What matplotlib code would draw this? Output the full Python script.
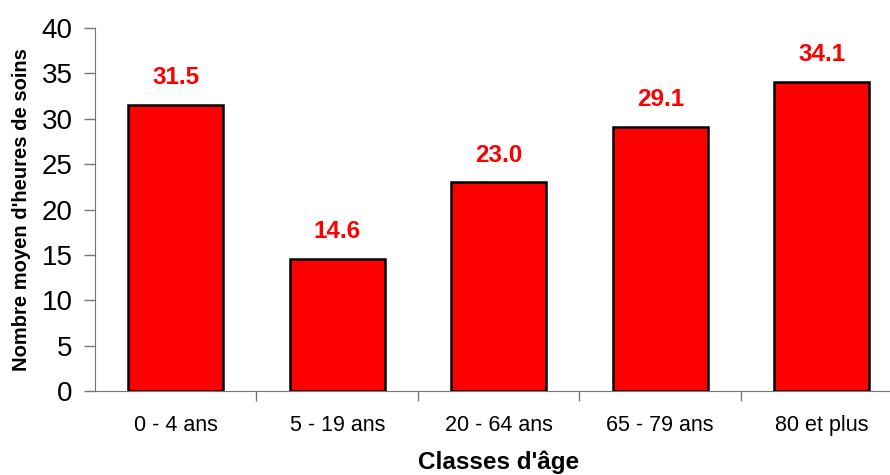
import matplotlib.pyplot as plt

plt.rcParams['font.family'] = ['Liberation Sans', 'DejaVu Sans']

categories = ["0 - 4 ans", "5 - 19 ans", "20 - 64 ans", "65 - 79 ans", "80 et plus"]
heures = [31.5, 14.6, 23.0, 29.1, 34.1]

fig = plt.figure(figsize=(8.9, 4.75), dpi=100)
ax = fig.add_axes([0.1067, 0.1768, 0.9073, 0.7642])

x = range(len(categories))
ax.bar(x, heures, width=0.59, color='#ff0000', edgecolor='black', linewidth=1.8, zorder=2)

for xi, v in zip(x, heures):
    ax.text(xi, v + 3.0, f"{v:.1f}", ha='center', va='center', color='#ff0000',
            fontsize=17.5, fontweight='bold')

ax.set_xlim(-0.5, len(categories) - 0.5)
ax.set_ylim(0, 40)
ax.set_yticks(range(0, 41, 5))
ax.tick_params(axis='y', labelsize=20, direction='out', length=8, color='#777777', width=1, pad=8)

# category labels centred, tick marks between categories
ax.set_xticks(list(x))
ax.set_xticklabels(categories, fontsize=15.5)
ax.tick_params(axis='x', length=0, pad=17)
ax.set_xticks([i + 0.5 for i in range(len(categories) - 1)], minor=True)
ax.tick_params(axis='x', which='minor', direction='out', length=7, color='#777777', width=1)

for side in ['top', 'right']:
    ax.spines[side].set_visible(False)
ax.spines['left'].set_color('#777777')
ax.spines['bottom'].set_color('#777777')

ax.set_ylabel("Nombre moyen d'heures de soins", fontsize=14.5, fontweight='bold', labelpad=8)
ax.set_xlabel("Classes d'âge", fontsize=17.5, fontweight='bold', labelpad=11)

fig.savefig("out.png", dpi=100)
